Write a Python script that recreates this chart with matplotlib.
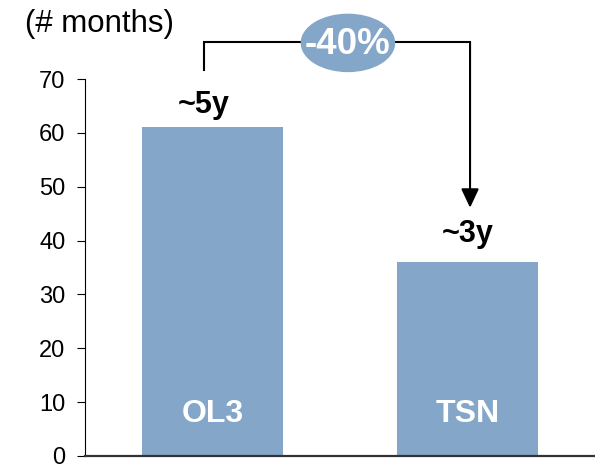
import matplotlib.pyplot as plt
from matplotlib.patches import Ellipse

plt.rcParams['font.family'] = ['Liberation Sans', 'DejaVu Sans']

# ---------------------------- data ----------------------------
projects = ['OL3', 'TSN']
months = [61, 36]
duration_labels = ['~5y', '~3y']
change_label = '-40%'
y_ticks = [0, 10, 20, 30, 40, 50, 60, 70]

bar_color = '#84A6C8'

# ---------------------------- figure ----------------------------
fig = plt.figure(figsize=(5.95, 4.67), dpi=100)
ax = fig.add_axes([85 / 595, 11 / 467, 510 / 595, 377 / 467])

x = list(range(len(projects)))
ax.bar(x, months, width=0.556, color=bar_color, zorder=2)

ax.set_xlim(-0.5, 1.5)
ax.set_ylim(0, 70)
ax.set_yticks(y_ticks)
ax.set_xticks([])
ax.tick_params(axis='y', direction='out', length=6, width=0.8, labelsize=17, pad=8)

for s in ['top', 'right']:
    ax.spines[s].set_visible(False)
ax.spines['left'].set_linewidth(0.8)
ax.spines['bottom'].set_linewidth(1.6)
ax.spines['bottom'].set_color('#333333')

# bar names inside the bars
for xi, name in zip(x, projects):
    ax.text(xi, 6.3, name, ha='center', va='baseline', color='white',
            fontsize=23, fontweight='bold')

# duration labels above bars
offsets = [2.7, 3.8]
label_x = [-0.035, 0]
for xi, v, lab, off, lx in zip(x, months, duration_labels, offsets, label_x):
    ax.text(xi + lx, v + off, lab, ha='center', va='baseline', color='black',
            fontsize=22, fontweight='bold')

# bracket with arrow
top_y = 76.85
left_x = -0.035
right_x = 1.01
ax.plot([left_x, left_x, right_x], [71.7, top_y, top_y], color='black', lw=1.5,
        clip_on=False, zorder=3, solid_joinstyle='miter')
ax.annotate('', xy=(right_x, 46.1), xytext=(right_x, top_y),
            arrowprops=dict(arrowstyle='-|>,head_length=1.15,head_width=0.54',
                            lw=1.5, color='black', shrinkA=0, shrinkB=0),
            annotation_clip=False, zorder=3)

# percentage bubble
ell = Ellipse((0.531, 76.7), 0.365, 10.6, color=bar_color, clip_on=False, zorder=4)
ax.add_patch(ell)
ax.text(0.531, 74.6, change_label, ha='center', va='baseline', color='white',
        fontsize=26.5, fontweight='bold', zorder=5)

fig.text(25 / 595, 1 - 32 / 467, '(# months)', ha='left', va='baseline', fontsize=22.5)

fig.savefig('out.png', dpi=100)
